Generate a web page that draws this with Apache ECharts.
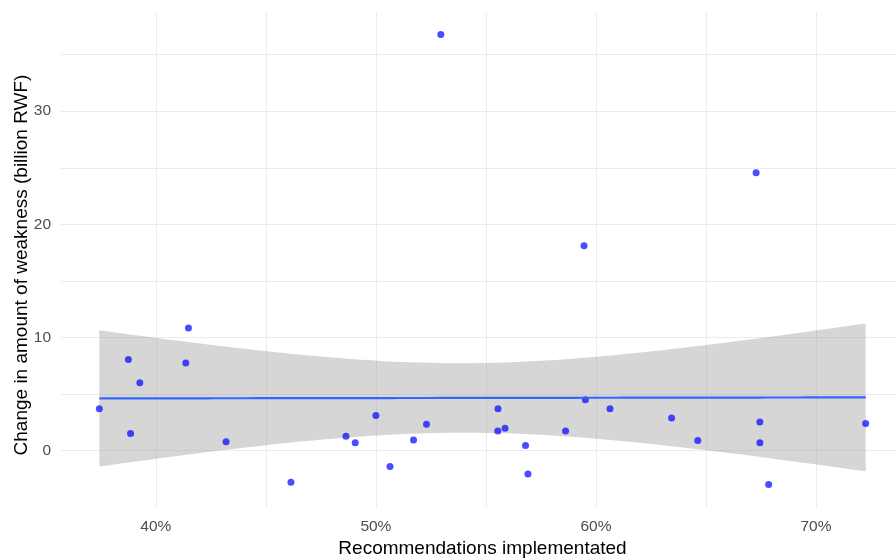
<!DOCTYPE html>
<html>
<head>
<meta charset="utf-8">
<title>Recommendations implemented vs change in weakness</title>
<script src="https://cdn.jsdelivr.net/npm/echarts@6/dist/echarts.min.js"></script>
<style>
  html, body { margin: 0; padding: 0; background: #ffffff; }
  #chart { width: 896px; height: 558px; }
</style>
</head>
<body>
<div id="chart"></div>
<script>
// Share of recommendations implemented (%) per entity
const implementedPct = [
  37.43, 38.75, 38.85, 39.27, 41.36, 41.48, 43.19, 46.14,
  48.64, 49.06, 50.00, 50.64, 51.71, 52.30, 52.95, 55.55,
  55.54, 55.87, 56.80, 56.91, 58.62, 59.46, 59.52, 60.64,
  63.44, 64.63, 67.28, 67.45, 67.45, 67.85, 72.26
];
// Change in amount of weakness (billion RWF) for the same entities
const weaknessChange = [
  3.70, 8.05, 1.50, 6.00, 7.73, 10.83, 0.78, -2.80,
  1.27, 0.70, 3.10, -1.41, 0.93, 2.33, 36.78, 3.70,
  1.72, 1.98, 0.45, -2.08, 1.72, 18.10, 4.50, 3.70,
  2.87, 0.90, 24.55, 2.52, 0.70, -3.00, 2.39
];
// Tick positions (gridlines) and labelled ticks
const xGridTicks = [40, 45, 50, 55, 60, 65, 70];
const xLabelTicks = [40, 50, 60, 70];
const yGridTicks = [0, 5, 10, 15, 20, 25, 30, 35];
const yLabelTicks = [0, 10, 20, 30];

// Student t quantile (0.975) for n - 2 = 29 degrees of freedom
const T_975_DF29 = 2.045;

// Ordinary least squares fit with a 95% confidence band
function linearFit(xs, ys) {
  const n = xs.length;
  const mx = xs.reduce((a, b) => a + b, 0) / n;
  const my = ys.reduce((a, b) => a + b, 0) / n;
  let sxx = 0, sxy = 0;
  for (let i = 0; i < n; i++) {
    sxx += (xs[i] - mx) * (xs[i] - mx);
    sxy += (xs[i] - mx) * (ys[i] - my);
  }
  const slope = sxy / sxx;
  const intercept = my - slope * mx;
  let sse = 0;
  for (let i = 0; i < n; i++) {
    const r = ys[i] - (intercept + slope * xs[i]);
    sse += r * r;
  }
  const s = Math.sqrt(sse / (n - 2));
  return { n, mx, sxx, slope, intercept, s };
}

const fit = linearFit(implementedPct, weaknessChange);
const xMinData = Math.min(...implementedPct);
const xMaxData = Math.max(...implementedPct);
const yMinData = Math.min(...weaknessChange);
const yMaxData = Math.max(...weaknessChange);

// Evaluate the fit at 80 evenly spaced points across the data range
const bandX = [], bandLo = [], bandHi = [], fitLine = [];
const nEval = 80;
for (let k = 0; k < nEval; k++) {
  const x = xMinData + (xMaxData - xMinData) * k / (nEval - 1);
  const yhat = fit.intercept + fit.slope * x;
  const se = fit.s * Math.sqrt(1 / fit.n + (x - fit.mx) * (x - fit.mx) / fit.sxx);
  bandX.push(x);
  bandLo.push(yhat - T_975_DF29 * se);
  bandHi.push(yhat + T_975_DF29 * se);
  fitLine.push([x, yhat]);
}

// Axis limits padded by 5% of the data range on each side
const xPad = (xMaxData - xMinData) * 0.05;
const yPad = (yMaxData - yMinData) * 0.05;

const chart = echarts.init(document.getElementById('chart'), null, { renderer: 'canvas' });
const FONT = '"Liberation Sans", Arial, sans-serif';

chart.setOption({
  animation: false,
  backgroundColor: '#ffffff',
  grid: { left: 61, top: 12, bottom: 51, right: -8, containLabel: false, outerBoundsMode: 'none' },
  xAxis: {
    type: 'value',
    min: xMinData - xPad,
    max: xMaxData + xPad,
    name: 'Recommendations implementated',
    nameLocation: 'middle',
    nameGap: 32,
    nameMoveOverlap: false,
    nameTextStyle: { color: '#000000', fontSize: 19, fontFamily: FONT },
    axisLine: { show: false },
    axisTick: { show: false, customValues: xGridTicks },
    axisLabel: {
      customValues: xLabelTicks,
      formatter: v => v + '%',
      color: '#4d4d4d', fontSize: 15.5, fontFamily: FONT, margin: 12
    },
    splitLine: { show: true, lineStyle: { color: '#ebebeb', width: 1 } }
  },
  yAxis: {
    type: 'value',
    min: yMinData - yPad,
    max: yMaxData + yPad,
    name: 'Change in amount of weakness (billion RWF)',
    nameLocation: 'middle',
    nameGap: 30,
    nameMoveOverlap: false,
    nameTextStyle: { color: '#000000', fontSize: 19, fontFamily: FONT, padding: [0, 11, 0, 0] },
    axisLine: { show: false },
    axisTick: { show: false, customValues: yGridTicks },
    axisLabel: {
      customValues: yLabelTicks,
      color: '#4d4d4d', fontSize: 15.5, fontFamily: FONT, margin: 10
    },
    splitLine: { show: true, lineStyle: { color: '#ebebeb', width: 1 } }
  },
  series: [
    {
      type: 'scatter',
      data: implementedPct.map((x, i) => [x, weaknessChange[i]]),
      symbolSize: 7,
      itemStyle: { color: 'rgba(0,0,255,0.7)', opacity: 1 },
      silent: true
    },
    {
      type: 'custom',
      data: bandX.map((x, i) => [x, bandLo[i], bandHi[i]]),
      encode: { x: 0, y: [1, 2] },
      silent: true,
      renderItem: function (params, api) {
        if (params.dataIndex !== 0) return null;
        const pts = [];
        for (let i = 0; i < bandX.length; i++) pts.push(api.coord([bandX[i], bandHi[i]]));
        for (let i = bandX.length - 1; i >= 0; i--) pts.push(api.coord([bandX[i], bandLo[i]]));
        return {
          type: 'polygon',
          shape: { points: pts },
          style: { fill: 'rgba(153,153,153,0.4)' }
        };
      }
    },
    {
      type: 'line',
      data: fitLine,
      showSymbol: false,
      lineStyle: { color: '#3366ff', width: 2.2 },
      silent: true
    }
  ]
});
</script>
</body>
</html>
